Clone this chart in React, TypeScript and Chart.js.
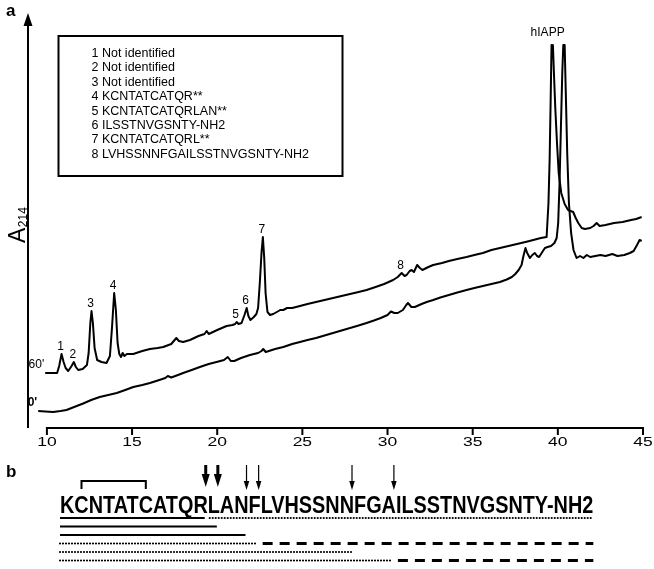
import React, { useEffect, useRef } from 'react';
import { Chart, registerables } from 'chart.js';

Chart.register(...registerables);

// ---------- Panel a data (retention time in min, A214 in arbitrary units) ----------
const time60 = [
  9.9, 10.6, 10.72, 10.86, 10.98, 11.1, 11.25, 11.45, 11.58, 11.7, 11.84, 12.1, 12.35, 12.45, 12.55, 12.62,
  12.7, 12.8, 12.95, 13.2, 13.5, 13.7, 13.82, 13.95, 14.05, 14.15, 14.25, 14.35, 14.45, 14.55, 14.7, 15.07,
  15.6, 16.05, 16.5, 16.83, 17.3, 17.5, 17.6, 17.75, 18.0, 18.4, 18.9, 19.25, 19.38, 19.5, 20.0, 20.55,
  20.9, 21.05, 21.14, 21.25, 21.43, 21.6, 21.73, 21.83, 21.95, 22.15, 22.3, 22.4, 22.5, 22.6, 22.68, 22.76,
  22.84, 22.95, 23.1, 23.29, 23.5, 23.7, 23.88, 24.1, 24.4, 24.86, 25.3, 25.8, 26.3, 26.8, 27.3, 27.8,
  28.3, 28.77, 29.3, 29.8, 30.33, 30.6, 30.83, 31.0, 31.12, 31.3, 31.41, 31.55, 31.74, 31.9, 32.05, 32.4,
  32.68, 33.2, 33.6, 34.1, 34.64, 35.1, 35.6, 36.1, 36.6, 37.1, 37.6, 38.1, 38.56, 39.0, 39.34, 39.45,
  39.52, 39.58, 39.63, 39.67, 39.71, 39.77, 39.85, 39.95, 40.05, 40.2, 40.4, 40.6, 40.9, 41.05, 41.2, 41.4,
  41.59, 41.9, 42.1, 42.28, 42.45, 42.8, 43.3, 43.8, 44.3, 44.6, 44.92,
];
const abs60 = [
  55, 55, 62, 74, 66, 60, 57, 62, 66, 61, 58, 59, 63, 75, 105, 117,
  105, 80, 68, 66, 65, 72, 100, 135, 118, 85, 74, 71, 75, 72, 74, 74,
  77, 79, 80, 81, 84, 88, 90, 87, 86, 88, 92, 94, 97, 94, 98, 102,
  103, 104, 106, 104, 105, 113, 120, 112, 108, 111, 114, 120, 145, 175, 191, 170,
  135, 116, 113, 114, 116, 118, 118, 120, 120, 122, 124, 126, 128, 130, 132, 134,
  136, 138, 141, 144, 148, 151, 155, 152, 153, 157, 158, 156, 163, 160, 158, 161,
  163, 165, 167, 169, 171, 173, 175, 178, 180, 182, 184, 186, 188, 190, 191, 225,
  270, 330, 383, 372, 383, 355, 320, 285, 255, 235, 224, 218, 216, 210, 205, 200,
  199, 200, 202, 205, 202, 203, 205, 206, 208, 209, 211,
];
const time0 = [
  9.49, 9.9, 10.37, 10.8, 11.15, 11.6, 12.13, 12.6, 13.1, 13.6, 14.1, 14.6, 15.07, 15.6, 16.05, 16.6,
  16.95, 17.1, 17.3, 17.7, 18.0, 18.5, 18.98, 19.5, 19.96, 20.4, 20.62, 20.8, 21.0, 21.4, 21.92, 22.4,
  22.6, 22.7, 22.85, 23.4, 23.88, 24.4, 24.86, 25.3, 25.8, 26.3, 26.8, 27.3, 27.8, 28.3, 28.77, 29.2,
  29.6, 30.0, 30.2, 30.4, 30.6, 30.9, 31.1, 31.2, 31.4, 31.6, 32.0, 32.3, 32.68, 33.1, 33.6, 34.1,
  34.64, 35.1, 35.6, 36.1, 36.6, 37.0, 37.3, 37.5, 37.7, 37.87, 37.98, 38.1, 38.2, 38.36, 38.5, 38.65,
  38.78, 38.9, 39.05, 39.24, 39.4, 39.6, 39.8, 39.93, 40.02, 40.1, 40.18, 40.26, 40.32, 40.4, 40.46, 40.55,
  40.65, 40.78, 40.92, 41.1, 41.3, 41.5, 41.7, 41.9, 42.2, 42.5, 42.8, 43.2, 43.5, 43.9, 44.23, 44.45,
  44.65, 44.8, 44.92,
];
const abs0 = [
  17, 16.5, 16, 17, 18, 21, 24.5, 28, 31, 33, 35, 38, 41, 43, 45, 48,
  50, 52, 50.5, 53, 55, 58, 61, 64, 66, 68, 71, 67, 67, 70, 73, 75,
  77, 79, 76, 79, 81, 84, 86, 88, 90, 92.5, 95, 97.5, 100, 102.5, 105, 107.5,
  110, 113, 116.5, 115, 115, 118, 123, 125, 121, 121, 124, 126, 128, 130.5, 133, 135.5,
  138, 140, 142, 144, 146, 148.5, 151, 154, 158, 163, 172, 180, 175, 170, 173, 175,
  172, 171, 175, 180, 181, 182, 185, 190, 205, 245, 300, 355, 383, 383, 340, 275,
  225, 195, 178, 170, 172, 170, 173, 171, 172, 173, 172, 174, 172, 173, 175, 177,
  183, 188, 187,
];
const seriesLabels = ["60'", "0'"];
const xTicks = [10, 15, 20, 25, 30, 35, 40, 45];
const peakNumbers = ['1', '2', '3', '4', '5', '6', '7', '8'];
const peakTimes = [10.86, 11.58, 12.62, 13.95, 21.14, 21.73, 22.68, 30.83];
const peakIdentities = [
  'Not identified',
  'Not identified',
  'Not identified',
  'KCNTATCATQR**',
  'KCNTATCATQRLAN**',
  'ILSSTNVGSNTY-NH2',
  'KCNTATCATQRL**',
  'LVHSSNNFGAILSSTNVGSNTY-NH2',
];
const hiappLabel = 'hIAPP';
const hiappTime = 39.4;
const yAxisTitle = 'A';
const yAxisSub = '214';

// ---------- Panel b data ----------
const sequence = 'KCNTATCATQRLANFLVHSSNNFGAILSSTNVGSNTY-NH2';
const residueCount = 37;
const disulfide = [2, 7];
const majorCleavages = [11, 12]; // cleavage after residue n
const minorCleavages = [14, 15, 22, 25];
const fragmentRows: [number, number, string][][] = [
  [[1, 11, 'solid'], [12, 37, 'dotted']],
  [[1, 12, 'solid']],
  [[1, 14, 'solid']],
  [[1, 15, 'dotted'], [16, 37, 'dashed']],
  [[1, 22, 'dotted']],
  [[1, 25, 'dotted'], [26, 37, 'dashed']],
];

const FONT = '"Liberation Sans", Arial, Helvetica, sans-serif';

const decor = {
  id: 'decor',
  afterDraw(chart: any) {
    const { ctx, chartArea } = chart;
    const xs = chart.scales.x;
    const ys = chart.scales.y;
    ctx.save();
    ctx.fillStyle = '#000';
    ctx.strokeStyle = '#000';

    // y axis with arrow
    const ax = chartArea.left;
    const bottom = chartArea.bottom;
    ctx.lineWidth = 2;
    ctx.beginPath();
    ctx.moveTo(ax, bottom);
    ctx.lineTo(ax, chartArea.top + 12);
    ctx.stroke();
    ctx.beginPath();
    ctx.moveTo(ax, chartArea.top + 1);
    ctx.lineTo(ax - 4.5, chartArea.top + 14);
    ctx.lineTo(ax + 4.5, chartArea.top + 14);
    ctx.closePath();
    ctx.fill();

    // panel label a
    ctx.font = `bold 17px ${FONT}`;
    ctx.textAlign = 'left';
    ctx.textBaseline = 'alphabetic';
    ctx.fillText('a', 6, 16);

    // y title rotated
    ctx.save();
    ctx.translate(24.5, 243);
    ctx.rotate(-Math.PI / 2);
    ctx.font = `23px ${FONT}`;
    ctx.fillText(yAxisTitle, 0, 0);
    const aw = ctx.measureText(yAxisTitle).width;
    ctx.font = `12px ${FONT}`;
    ctx.fillText(yAxisSub, aw + 0.5, 2);
    ctx.restore();

    // x axis
    const x0 = xs.getPixelForValue(xTicks[0]);
    const x1 = xs.getPixelForValue(xTicks[xTicks.length - 1]);
    ctx.lineWidth = 2;
    ctx.beginPath();
    ctx.moveTo(x0, bottom);
    ctx.lineTo(x1, bottom);
    ctx.stroke();
    ctx.font = `12.5px ${FONT}`;
    ctx.textAlign = 'center';
    ctx.textBaseline = 'middle';
    xTicks.forEach((t) => {
      const px = xs.getPixelForValue(t);
      ctx.beginPath();
      ctx.moveTo(px, bottom - 1);
      ctx.lineTo(px, bottom + 7);
      ctx.stroke();
      ctx.save();
      ctx.translate(px, bottom + 15);
      ctx.scale(1.4, 1);
      ctx.fillText(String(t), 0, 0);
      ctx.restore();
    });

    // series labels at curve starts
    ctx.textAlign = 'right';
    ctx.textBaseline = 'middle';
    ctx.font = `12px ${FONT}`;
    ctx.fillText(seriesLabels[0], xs.getPixelForValue(time60[0]) - 1, ys.getPixelForValue(abs60[0]) - 8);
    ctx.font = `bold 12px ${FONT}`;
    ctx.fillText(seriesLabels[1], xs.getPixelForValue(time0[0]) - 1, ys.getPixelForValue(abs0[0]) - 8);

    // peak numbers
    ctx.font = `12px ${FONT}`;
    ctx.textAlign = 'center';
    ctx.textBaseline = 'alphabetic';
    peakNumbers.forEach((lab, i) => {
      const t = peakTimes[i];
      let best = -Infinity;
      time60.forEach((tt, j) => {
        if (Math.abs(tt - t) <= 0.1 && abs60[j] > best) best = abs60[j];
      });
      ctx.fillText(lab, xs.getPixelForValue(t) - 1, ys.getPixelForValue(best) - 4);
    });
    // hIAPP
    const topVal = Math.max(...abs60, ...abs0);
    ctx.fillText(hiappLabel, xs.getPixelForValue(hiappTime), ys.getPixelForValue(topVal) - 9);

    // legend box with peak identities
    ctx.lineWidth = 2;
    ctx.strokeRect(58.5, 36, 284, 140);
    ctx.font = `12.5px ${FONT}`;
    ctx.textAlign = 'left';
    ctx.textBaseline = 'middle';
    peakNumbers.forEach((n, i) => {
      ctx.fillText(`${n} ${peakIdentities[i]}`, 91.5, 53.5 + i * 14.4);
    });

    // ---------- panel b ----------
    ctx.font = `bold 17px ${FONT}`;
    ctx.textBaseline = 'alphabetic';
    ctx.fillText('b', 6, 477);

    const seqX = 60;
    const seqW = 533.3;
    const seqBase = 512.5;
    ctx.font = `bold 23px ${FONT}`;
    const full = ctx.measureText(sequence).width;
    const sx = seqW / full;
    const bound = (k: number) =>
      k >= residueCount ? seqX + seqW : seqX + ctx.measureText(sequence.slice(0, k)).width * sx;
    ctx.save();
    ctx.translate(seqX, seqBase);
    ctx.scale(sx, 1);
    ctx.fillText(sequence, 0, 0);
    ctx.restore();

    // disulfide bracket
    const c1 = (bound(disulfide[0] - 1) + bound(disulfide[0])) / 2;
    const c2 = (bound(disulfide[1] - 1) + bound(disulfide[1])) / 2;
    ctx.lineWidth = 2;
    ctx.lineCap = 'butt';
    ctx.beginPath();
    ctx.moveTo(c1, 489);
    ctx.lineTo(c1, 481);
    ctx.lineTo(c2, 481);
    ctx.lineTo(c2, 489);
    ctx.stroke();

    const arrow = (x: number, yA: number, yB: number, sw: number, hw: number, hl: number) => {
      ctx.lineWidth = sw;
      ctx.beginPath();
      ctx.moveTo(x, yA);
      ctx.lineTo(x, yB - hl + 1);
      ctx.stroke();
      ctx.beginPath();
      ctx.moveTo(x, yB);
      ctx.lineTo(x - hw / 2, yB - hl);
      ctx.lineTo(x + hw / 2, yB - hl);
      ctx.closePath();
      ctx.fill();
    };
    majorCleavages.forEach((k) => arrow(bound(k) - 2, 465, 487, 3, 8, 13));
    minorCleavages.forEach((k) => arrow(bound(k) - 2, 465, 490, 1.2, 5.5, 9));

    // fragment lines
    fragmentRows.forEach((row, r) => {
      const yy = 518 + r * 8.5;
      row.forEach(([s, e, style]) => {
        const xa = s === 1 ? seqX : bound(s - 1) + 2;
        const xb = e >= residueCount ? seqX + seqW : bound(e) - 3;
        ctx.beginPath();
        if (style === 'solid') {
          ctx.setLineDash([]);
          ctx.lineWidth = 2;
          ctx.lineCap = 'butt';
        } else if (style === 'dotted') {
          ctx.setLineDash([0, 3]);
          ctx.lineWidth = 2.2;
          ctx.lineCap = 'round';
        } else {
          ctx.setLineDash([10, 7]);
          ctx.lineWidth = 3;
          ctx.lineCap = 'butt';
        }
        ctx.moveTo(xa, yy);
        ctx.lineTo(xb, yy);
        ctx.stroke();
      });
    });
    ctx.setLineDash([]);
    ctx.restore();
  },
};

export default function App() {
  const ref = useRef<HTMLCanvasElement | null>(null);
  useEffect(() => {
    if (!ref.current) return;
    const chart = new Chart(ref.current, {
      type: 'line',
      data: {
        datasets: [
          {
            label: seriesLabels[0],
            data: time60.map((t, i) => ({ x: t, y: abs60[i] })),
            borderColor: '#000',
            borderWidth: 2,
            pointRadius: 0,
            tension: 0,
            borderJoinStyle: 'round',
            fill: false,
          },
          {
            label: seriesLabels[1],
            data: time0.map((t, i) => ({ x: t, y: abs0[i] })),
            borderColor: '#000',
            borderWidth: 2,
            pointRadius: 0,
            tension: 0,
            borderJoinStyle: 'round',
            fill: false,
          },
        ],
      },
      options: {
        animation: false,
        responsive: false,
        events: [],
        layout: { padding: { left: 28, right: 11, top: 12, bottom: 141 } },
        scales: {
          x: { type: 'linear', min: 8.89, max: 45, display: false },
          y: { type: 'linear', min: 0, max: 416, display: false },
        },
        plugins: { legend: { display: false }, tooltip: { enabled: false } },
      },
      plugins: [decor],
    } as any);
    return () => chart.destroy();
  }, []);
  return (
    <div style={{ position: 'absolute', left: 0, top: 0, width: 654, height: 569, background: '#fff' }}>
      <canvas ref={ref} width={654} height={569} style={{ display: 'block' }} />
    </div>
  );
}
